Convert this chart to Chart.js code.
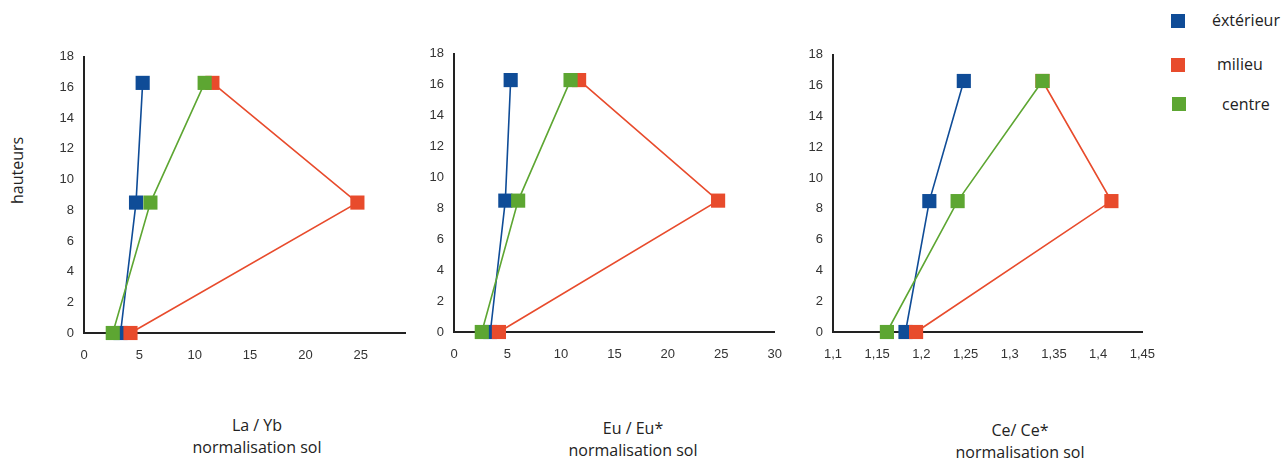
<!DOCTYPE html>
<html>
<head>
<meta charset="utf-8">
<script src="https://cdn.jsdelivr.net/npm/chart.js@4"></script>
<style>
  body { margin:0; width:1282px; height:459px; background:#fff; position:relative; overflow:hidden; font-family:"Open Sans", sans-serif; color:#222; }
  canvas { position:absolute; }
  .lbl { position:absolute; font-size:16px; text-align:center; white-space:nowrap; line-height:22px; }
  .leg { position:absolute; width:14px; height:14px; }
  .legtxt { position:absolute; font-size:16px; line-height:20px; white-space:nowrap; }
</style>
</head>
<body>
<canvas id="c1"></canvas>
<canvas id="c2"></canvas>
<canvas id="c3"></canvas>

<div class="lbl" style="left:-1px;top:175px;width:36px;transform:rotate(-90deg);font-size:16px;">hauteurs</div>

<div class="lbl" style="left:157px;top:414px;width:200px;">La / Yb<br>normalisation sol</div>
<div class="lbl" style="left:533px;top:417px;width:200px;">Eu / Eu*<br>normalisation sol</div>
<div class="lbl" style="left:920px;top:419px;width:200px;">Ce/ Ce*<br>normalisation sol</div>

<div class="leg" style="left:1171px;top:14px;background:#0f4c97"></div>
<div class="legtxt" style="left:1212px;top:10px;">éxtérieur</div>
<div class="leg" style="left:1171px;top:58px;background:#e84b2c"></div>
<div class="legtxt" style="left:1217px;top:54px;">milieu</div>
<div class="leg" style="left:1172px;top:97px;background:#5da632"></div>
<div class="legtxt" style="left:1222px;top:94px;">centre</div>

<script>
// hauteurs (same for each profile)
const heights = [16.3, 8.5, 0]
const yTicks = [0,2,4,6,8,10,12,14,16,18]

// La / Yb
const laybExt = [5.3, 4.7, 3.3]
const laybMil = [11.6, 24.7, 4.2]
const laybCen = [10.9, 6.0, 2.6]
const laybTicks = [0,5,10,15,20,25]

// Eu / Eu*
const euExt = [5.3, 4.8, 3.4]
const euMil = [11.7, 24.7, 4.2]
const euCen = [10.9, 6.0, 2.6]
const euTicks = [0,5,10,15,20,25,30]

// Ce / Ce*
const ceExt = [1.248, 1.209, 1.182]
const ceMil = [1.337, 1.415, 1.194]
const ceCen = [1.337, 1.241, 1.161]
const ceTicks = [1.1,1.15,1.2,1.25,1.3,1.35,1.4,1.45]

const BLUE = "#0f4c97", RED = "#e84b2c", GREEN = "#5da632"

function pts(xs){
  return xs.map((x,i) => ({x:x, y:heights[i]}))
}

function ds(label, xs, col, ord){
  return {
    label:label,
    data:pts(xs),
    showLine:true,
    borderColor:col,
    backgroundColor:col,
    borderWidth:1.6,
    pointStyle:'rect',
    pointRadius:10,
    pointHoverRadius:10,
    pointBorderWidth:0,
    clip:false,
    order:ord
  }
}

function panel(id, box, ext, mil, cen, xMin, xMax, xTicks){
  const cv = document.getElementById(id)
  cv.width = box.r - box.l + 60
  cv.height = box.b - box.t + 40
  cv.style.left = (box.l - 50) + "px"
  cv.style.top = (box.t - 10) + "px"
  return new Chart(cv,{
    type:'scatter',
    data:{
      datasets:[
        ds("éxtérieur", ext, BLUE, 3),
        ds("milieu", mil, RED, 2),
        ds("centre", cen, GREEN, 1)
      ]
    },
    options:{
      responsive:false,
      animation:false,
      layout:{ padding:{ top:10, right:10, left:0, bottom:0 } },
      plugins:{ legend:{ display:false }, tooltip:{ enabled:false } },
      scales:{
        x:{
          type:'linear', min:xMin, max:xMax,
          grid:{ display:false, drawTicks:false },
          border:{ color:"#222", width:2 },
          afterBuildTicks: s => { s.ticks = xTicks.map(v => ({value:v})) },
          afterFit: s => { s.height = 30 },
          ticks:{
            padding:15, color:"#333", maxRotation:0, autoSkip:false,
            font:{ family:"Liberation Sans", size:13 },
            callback: v => (Math.round(v*100)/100).toString().replace('.', ',')
          }
        },
        y:{
          type:'linear', min:0, max:18,
          grid:{ display:false, drawTicks:false },
          border:{ color:"#222", width:2 },
          afterBuildTicks: s => { s.ticks = yTicks.map(v => ({value:v})) },
          afterFit: s => { s.width = 50 },
          ticks:{ padding:10, color:"#333", font:{ family:"Liberation Sans", size:13 } }
        }
      }
    }
  })
}

panel("c1", {l:84, t:49, r:405, b:333}, laybExt, laybMil, laybCen, 0, 29, laybTicks)
panel("c2", {l:454, t:46, r:787, b:332}, euExt, euMil, euCen, 0, 30, euTicks)
panel("c3", {l:833, t:47, r:1160, b:332}, ceExt, ceMil, ceCen, 1.1, 1.45, ceTicks)
</script>
</body>
</html>
